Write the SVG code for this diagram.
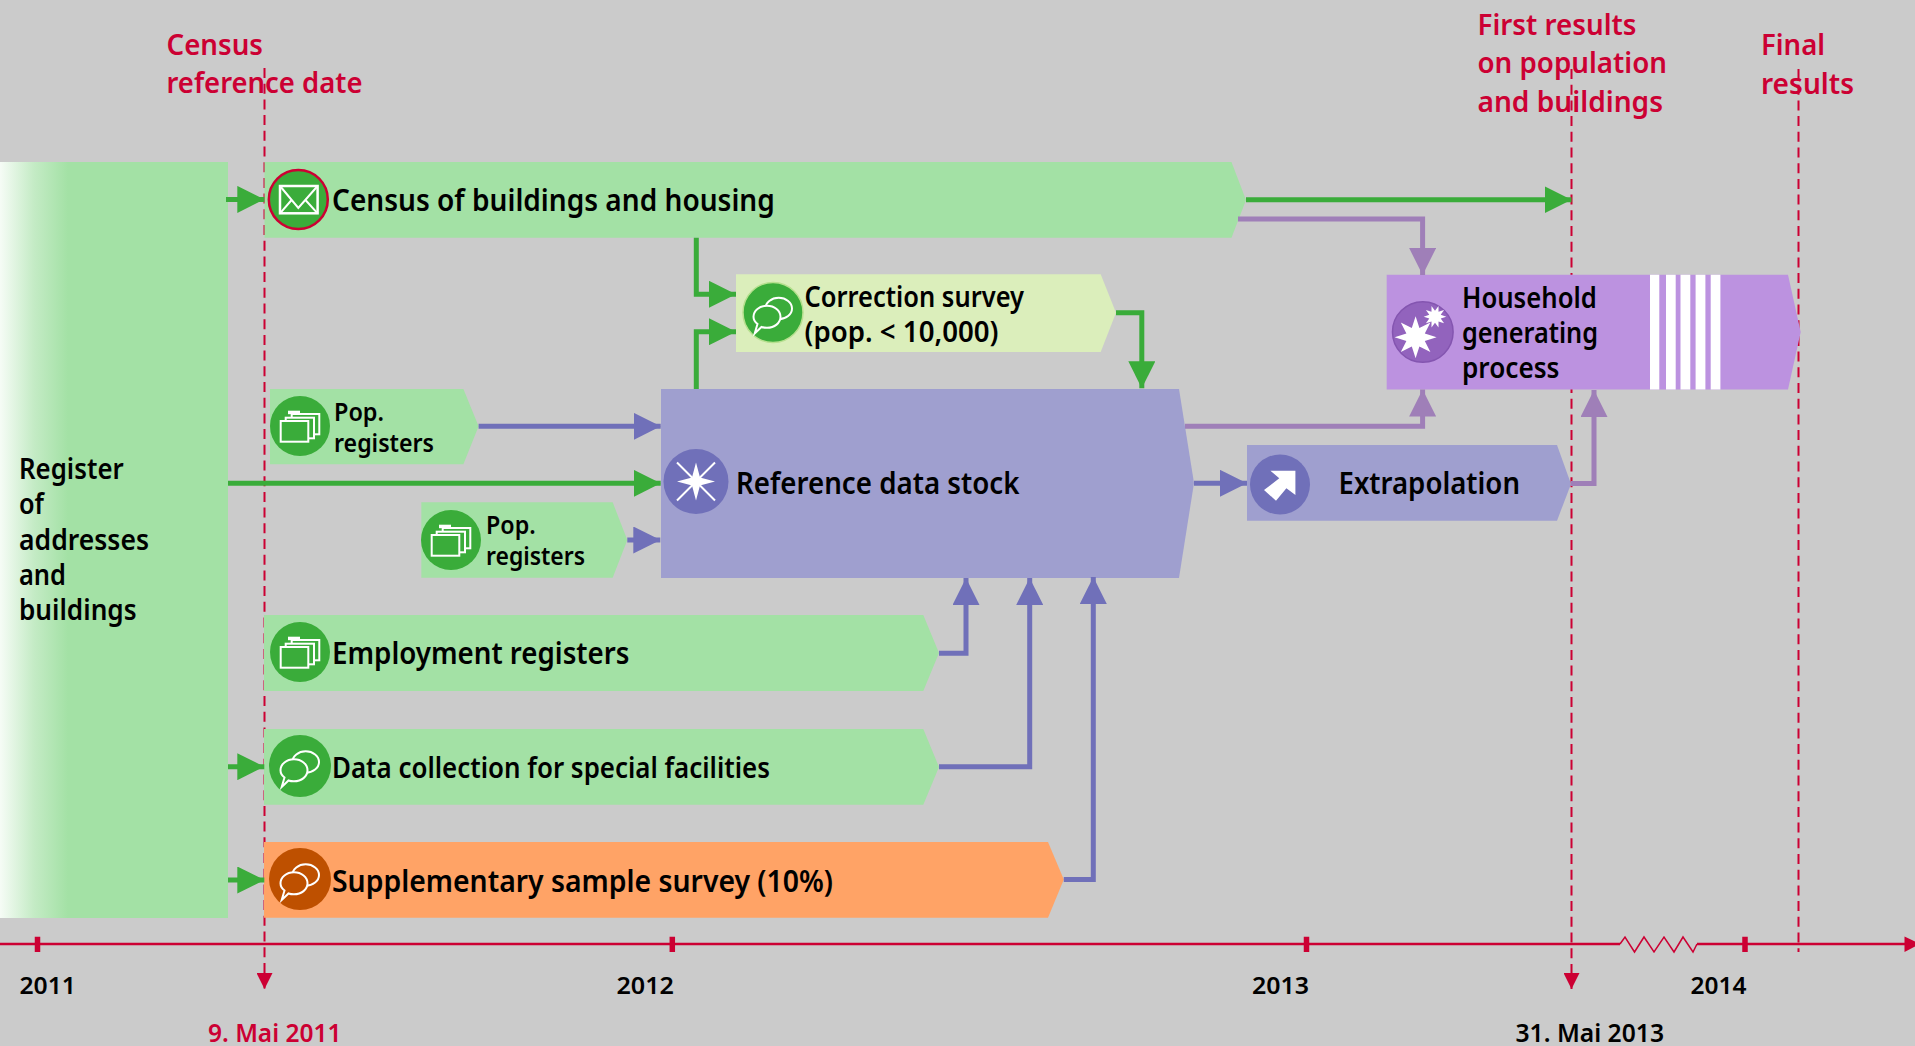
<svg xmlns="http://www.w3.org/2000/svg" xmlns:xlink="http://www.w3.org/1999/xlink" width="1915" height="1046" viewBox="0 0 1915 1046">
<style>
text{font-family:"Noto Sans",Lato,"Liberation Sans",sans-serif;font-weight:600;fill:#000}
.red{fill:#cc0033}
.s30{font-size:31px}.s28{font-size:29px}.s25{font-size:26px}.s24{font-size:25px}.s23{font-size:24px}.s27{font-size:28px}
.bandG{fill:#a3e1a5}.bandB{fill:#9f9fcf}
.cG{fill:#3aac3a}.cB{fill:#7070b9}
.conn{fill:none;stroke-width:5;stroke-linejoin:miter}
.gr{stroke:#3aac3a}.bl{stroke:#7070b9}.pu{stroke:#9f7fb8}
.dash{fill:none;stroke:#cc0033;stroke-width:2;stroke-dasharray:10 5.7}
.ico{fill:none;stroke:#fff;stroke-width:2}
</style>
<defs>
<linearGradient id="fade" gradientUnits="userSpaceOnUse" x1="0" y1="0" x2="68" y2="0"><stop offset="0" stop-color="#f6fcf6"/><stop offset="0.5" stop-color="#c4ebc5"/><stop offset="1" stop-color="#a3e1a5"/></linearGradient>
<marker id="mG" markerUnits="userSpaceOnUse" markerWidth="27" markerHeight="27" refX="27" refY="13.5" orient="auto"><path d="M0 0L27 13.500L0 27Z" fill="#3aac3a"/></marker>
<marker id="mB" markerUnits="userSpaceOnUse" markerWidth="27" markerHeight="27" refX="27" refY="13.5" orient="auto"><path d="M0 0L27 13.500L0 27Z" fill="#7070b9"/></marker>
<marker id="mP" markerUnits="userSpaceOnUse" markerWidth="27" markerHeight="27" refX="27" refY="13.5" orient="auto"><path d="M0 0L27 13.500L0 27Z" fill="#9f7fb8"/></marker>
<marker id="mR" markerUnits="userSpaceOnUse" markerWidth="16" markerHeight="16" refX="16" refY="8" orient="auto"><path d="M0 0L16 8L0 16Z" fill="#cc0033"/></marker>
<g id="chat" class="ico">
<ellipse cx="5.7" cy="-4" rx="13.3" ry="10.7" fill="currentColor"/>
<path d="M-18.3 21L-15.5 11.5C-19 9 -19.5 6.5 -19.500 4.300C-19.500 -2 -13.500 -6.700 -6 -6.700C1.500 -6.700 7.500 -2 7.500 4.300C7.500 10.500 1.500 15.300 -6 15.300C-8 15.300 -10 15 -11.500 14.500Z" fill="currentColor"/>
</g>
<g id="folders" class="ico" stroke-width="1.6">
<rect x="-8.3" y="-11" width="27.6" height="20.3" fill="#3aac3a"/>
<rect x="-14.3" y="-7.3" width="28.3" height="20.6" fill="#3aac3a"/>
<rect x="-19.3" y="-4" width="27.6" height="20.7" fill="#3aac3a"/>
<rect x="-12" y="-14.3" width="12" height="3.5" fill="#fff" stroke="none"/>
</g>
</defs>
<rect width="1915" height="1046" fill="#cbcbcb"/>

<g id="markers-dates">
<path class="dash" d="M264.500 68V989" marker-end="url(#mR)"/>
<path class="dash" d="M1571.500 69V989" marker-end="url(#mR)"/>
<path class="dash" d="M1798.500 69V952"/>
</g>

<g id="timeline">
<path d="M0 944H1620M1697 944H1906" fill="none" stroke="#cc0033" stroke-width="2.500"/>
<path d="M1620 944L1625 937L1634.500 952L1644 937L1654 952L1664 937L1674 952L1683 937L1693 952L1697 944" fill="none" stroke="#cc0033" stroke-width="1.500"/>
<path d="M1904.500 936.500L1920 944L1904.500 952Z" fill="#cc0033"/>
<path d="M37.500 936.700V952M672.300 936.700V952M1306.500 936.700V952M1745 936.700V952" stroke="#cc0033" stroke-width="5.500" fill="none"/>
<text class="s23" x="19.500" y="994" textLength="56.500" lengthAdjust="spacingAndGlyphs">2011</text>
<text class="s23" x="616.500" y="994" textLength="57.500" lengthAdjust="spacingAndGlyphs">2012</text>
<text class="s23" x="1252" y="994" textLength="57" lengthAdjust="spacingAndGlyphs">2013</text>
<text class="s23" x="1690.500" y="994" textLength="56" lengthAdjust="spacingAndGlyphs">2014</text>
<text class="s24 red" x="208" y="1042" textLength="133.500" lengthAdjust="spacingAndGlyphs">9. Mai 2011</text>
<text class="s24" x="1515.500" y="1042" textLength="148.500" lengthAdjust="spacingAndGlyphs">31. Mai 2013</text>
<text class="s28 red" x="166.500" y="54.500" textLength="96.500" lengthAdjust="spacingAndGlyphs">Census</text>
<text class="s28 red" x="166.500" y="92.500" textLength="196" lengthAdjust="spacingAndGlyphs">reference date</text>
<text class="s28 red" x="1477.500" y="34.500" textLength="159" lengthAdjust="spacingAndGlyphs">First results</text>
<text class="s28 red" x="1477.500" y="73" textLength="189.500" lengthAdjust="spacingAndGlyphs">on population</text>
<text class="s28 red" x="1477.500" y="111.500" textLength="185.500" lengthAdjust="spacingAndGlyphs">and buildings</text>
<text class="s28 red" x="1761" y="54.500" textLength="64" lengthAdjust="spacingAndGlyphs">Final</text>
<text class="s28 red" x="1761" y="93.500" textLength="93" lengthAdjust="spacingAndGlyphs">results</text>
</g>

<g id="register">
<rect x="0" y="162" width="228" height="756" class="bandG"/>
<rect x="0" y="162" width="68" height="756" fill="url(#fade)"/>
<text class="s27" x="19" y="479" textLength="104.700" lengthAdjust="spacingAndGlyphs">Register</text>
<text class="s27" x="19" y="514.250" textLength="25" lengthAdjust="spacingAndGlyphs">of</text>
<text class="s27" x="19" y="549.500" textLength="130" lengthAdjust="spacingAndGlyphs">addresses</text>
<text class="s27" x="19" y="584.750" textLength="47" lengthAdjust="spacingAndGlyphs">and</text>
<text class="s27" x="19" y="620" textLength="117.600" lengthAdjust="spacingAndGlyphs">buildings</text>
</g>

<g id="census">
<path class="bandG" d="M264.500 162H1231.500L1246 200L1231.500 237.700H264.500Z"/>
<circle cx="298.300" cy="199.500" r="29.500" class="cG" stroke="#cc0033" stroke-width="2.500"/>
<g class="ico"><rect x="280" y="186" width="37.600" height="27.300" stroke-width="2.500"/><path d="M280 186L298.300 208L317.600 186M280 213.300L292 199.500M317.600 213.300L305 199.500"/></g>
<text class="s30" x="332" y="210.700" textLength="442.800" lengthAdjust="spacingAndGlyphs">Census of buildings and housing</text>
</g>

<g id="correction">
<path fill="#dbeebb" d="M736 274.300H1100.700L1116 312.700L1100.700 352H736Z"/>
<circle cx="773" cy="312.500" r="30" class="cG" stroke="#b7e08f" stroke-width="1.500"/>
<use href="#chat" xlink:href="#chat" x="773" y="312.500" style="color:#3aac3a"/>
<text class="s28" x="804.500" y="306.700" textLength="219.500" lengthAdjust="spacingAndGlyphs">Correction survey</text>
<text class="s28" x="804.500" y="341.700" textLength="194" lengthAdjust="spacingAndGlyphs">(pop. &lt; 10,000)</text>
</g>

<g id="pop1">
<path class="bandG" d="M270 389H463.400L478.600 426.300L463.400 464.300H270Z"/>
<circle cx="300" cy="426" r="30" class="cG"/>
<use href="#folders" xlink:href="#folders" x="300" y="425"/>
<text class="s25" x="334" y="420.700" textLength="50" lengthAdjust="spacingAndGlyphs">Pop.</text>
<text class="s25" x="334" y="451.700" textLength="100" lengthAdjust="spacingAndGlyphs">registers</text>
</g>

<g id="pop2">
<path class="bandG" d="M421.300 502.300H612.700L627.300 540L612.700 577.700H421.300Z"/>
<circle cx="451" cy="540" r="30" class="cG"/>
<use href="#folders" xlink:href="#folders" x="451" y="539"/>
<text class="s25" x="486" y="534" textLength="49.700" lengthAdjust="spacingAndGlyphs">Pop.</text>
<text class="s25" x="486" y="565.300" textLength="99" lengthAdjust="spacingAndGlyphs">registers</text>
</g>

<g id="stock">
<path class="bandB" d="M661 389H1179L1194 483L1179 578H661Z"/>
<circle cx="696" cy="481.500" r="32.500" class="cB"/>
<path d="M696 462.500L700 477.500L715 481.500L700 485.500L696 500.500L692 485.500L677 481.500L692 477.500Z" fill="#fff"/>
<path class="ico" d="M677 462.500L715 500.500M715 462.500L677 500.500"/>
<text class="s30" x="736" y="494" textLength="283.500" lengthAdjust="spacingAndGlyphs">Reference data stock</text>
</g>

<g id="extrapolation">
<path class="bandB" d="M1247 445H1557L1571 484L1557 520.700H1247Z"/>
<circle cx="1280" cy="484.500" r="30" class="cB"/>
<path fill="#fff" d="M1270.400 470.700H1295.400V495L1286.400 488.300L1276 500.700L1264 490L1279.300 478.300Z"/>
<text class="s30" x="1338.500" y="494" textLength="181.500" lengthAdjust="spacingAndGlyphs">Extrapolation</text>
</g>

<g id="household">
<path fill="#bc92e0" d="M1386.700 274.800H1788L1800.700 332L1788 389.500H1386.700Z"/>
<path fill="#fff" d="M1650 274.800h9.300v114.700h-9.300zM1666 274.800h9.700v114.700h-9.700zM1680.500 274.800h9.800v114.700h-9.800zM1695.600 274.800h9.800v114.700h-9.800zM1710.700 274.800h9.700v114.700h-9.700z"/>
<circle cx="1422.800" cy="332" r="30.300" fill="#9263bd" stroke="#8455b0" stroke-width="1.500"/>
<polygon fill="#fff" transform="translate(1415.600 337.300)" points="21,0 9.200,3.800 14.800,14.800 3.800,9.200 0,21 -3.800,9.200 -14.800,14.800 -9.200,3.800 -21,0 -9.200,-3.800 -14.800,-14.800 -3.800,-9.200 0,-21 3.800,-9.200 14.800,-14.800 9.200,-3.800"/>
<polygon fill="#fff" transform="translate(1435 316.700)" points="11.300,0 5.700,1.900 9.100,6.600 3.500,4.900 3.500,10.700 0,6 -3.500,10.700 -3.500,4.900 -9.100,6.600 -5.700,1.900 -11.300,0 -5.700,-1.900 -9.100,-6.600 -3.500,-4.900 -3.500,-10.700 0,-6 3.500,-10.700 3.500,-4.900 9.100,-6.600 5.700,-1.900"/>
<text class="s28" x="1462" y="307.500" textLength="134.800" lengthAdjust="spacingAndGlyphs">Household</text>
<text class="s28" x="1462" y="343" textLength="136" lengthAdjust="spacingAndGlyphs">generating</text>
<text class="s28" x="1462" y="378" textLength="97.500" lengthAdjust="spacingAndGlyphs">process</text>
</g>

<g id="employment">
<path class="bandG" d="M264 615H923.300L939 653L923.300 691H264Z"/>
<circle cx="300" cy="652" r="30" class="cG"/>
<use href="#folders" xlink:href="#folders" x="300" y="651"/>
<text class="s30" x="332" y="664" textLength="297.500" lengthAdjust="spacingAndGlyphs">Employment registers</text>
</g>

<g id="special-facilities">
<path class="bandG" d="M264 729H923.300L939 767L923.300 804.700H264Z"/>
<circle cx="300" cy="766" r="31" class="cG"/>
<use href="#chat" xlink:href="#chat" x="300" y="766" style="color:#3aac3a"/>
<text class="s28" x="332" y="778" textLength="438" lengthAdjust="spacingAndGlyphs">Data collection for special facilities</text>
</g>

<g id="supplementary">
<path fill="#ffa366" d="M264 842H1048L1063.800 879.500L1048 917.700H264Z"/>
<circle cx="300" cy="879" r="31" fill="#be5000"/>
<use href="#chat" xlink:href="#chat" x="300" y="879" style="color:#be5000"/>
<text class="s30" x="332" y="891.700" textLength="501" lengthAdjust="spacingAndGlyphs">Supplementary sample survey (10%)</text>
</g>

<g id="connectors">
<path class="conn gr" d="M226 199.400H264.300" marker-end="url(#mG)"/>
<path class="conn gr" d="M228 483.300H660.700" marker-end="url(#mG)"/>
<path class="conn gr" d="M228 766.700H264.300" marker-end="url(#mG)"/>
<path class="conn gr" d="M228 880H264.300" marker-end="url(#mG)"/>
<path class="conn gr" d="M696.300 237.700V294.300H736" marker-end="url(#mG)"/>
<path class="conn gr" d="M696.300 389V331.700H736" marker-end="url(#mG)"/>
<path class="conn gr" d="M1116 312.700H1141.800V388.300" marker-end="url(#mG)"/>
<path class="conn gr" d="M1246 199.700H1571.500" marker-end="url(#mG)"/>
<path class="conn bl" d="M478.600 426.300H660.700" marker-end="url(#mB)"/>
<path class="conn bl" d="M627.300 540H660.300" marker-end="url(#mB)"/>
<path class="conn bl" d="M1194 483.300H1247" marker-end="url(#mB)"/>
<path class="conn bl" d="M939 653.300H966V578" marker-end="url(#mB)"/>
<path class="conn bl" d="M939 766.700H1029.700V578" marker-end="url(#mB)"/>
<path class="conn bl" d="M1063.800 879.500H1093.300V577" marker-end="url(#mB)"/>
<path class="conn pu" d="M1238 219H1422.600V275" marker-end="url(#mP)"/>
<path class="conn pu" d="M1185 426.300H1422.600V389.500" marker-end="url(#mP)"/>
<path class="conn pu" d="M1571 483.500H1594V390" marker-end="url(#mP)"/>
</g>
</svg>
